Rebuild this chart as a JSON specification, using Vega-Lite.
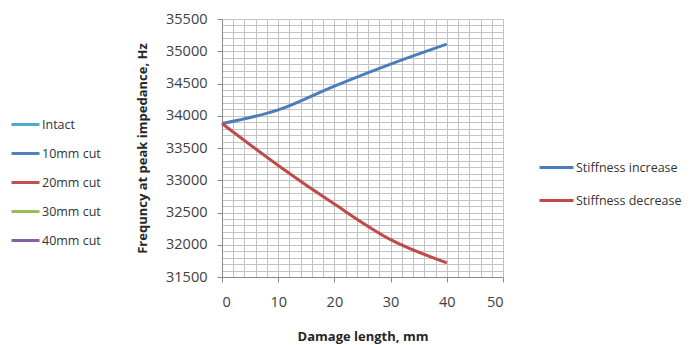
{
  "$schema": "https://vega.github.io/schema/vega-lite/v6.json",
  "width": 281,
  "height": 258,
  "autosize": {"type": "none"},
  "padding": {"left": 222, "top": 19, "right": 194, "bottom": 68},
  "background": "white",
  "config": {
    "font": "Open Sans",
    "view": {"stroke": null},
    "axis": {
      "grid": true,
      "gridColor": "#c3c3c3",
      "gridWidth": 1,
      "domainColor": "#8a8a8a",
      "domainWidth": 1,
      "tickColor": "#8a8a8a",
      "labelColor": "#404040",
      "labelFont": "Open Sans",
      "labelFontSize": 14.5,
      "labelOverlap": false,
      "tickCount": 200,
      "titleFont": "Open Sans",
      "titleFontSize": 13,
      "titleFontWeight": "bold",
      "titleColor": "#262626"
    },
    "legend": {
      "labelFont": "Open Sans",
      "labelColor": "#333333",
      "padding": 0
    }
  },
  "datasets": {
    "stiffness": [
      {"series": "Stiffness increase", "length": 0, "freq": 33880},
      {"series": "Stiffness increase", "length": 10, "freq": 34090},
      {"series": "Stiffness increase", "length": 20, "freq": 34460},
      {"series": "Stiffness increase", "length": 30, "freq": 34800},
      {"series": "Stiffness increase", "length": 40, "freq": 35110},
      {"series": "Stiffness decrease", "length": 0, "freq": 33880},
      {"series": "Stiffness decrease", "length": 10, "freq": 33230},
      {"series": "Stiffness decrease", "length": 20, "freq": 32630},
      {"series": "Stiffness decrease", "length": 30, "freq": 32080},
      {"series": "Stiffness decrease", "length": 40, "freq": 31720}
    ],
    "cuts": [
      {"cut": "Intact"},
      {"cut": "10mm cut"},
      {"cut": "20mm cut"},
      {"cut": "30mm cut"},
      {"cut": "40mm cut"}
    ]
  },
  "layer": [
    {
      "data": {"name": "cuts"},
      "mark": {"type": "line"},
      "encoding": {
        "x": {"field": "length", "type": "quantitative"},
        "y": {"field": "freq", "type": "quantitative"},
        "color": {
          "field": "cut", "type": "ordinal",
          "scale": {"domain": ["Intact", "10mm cut", "20mm cut", "30mm cut", "40mm cut"], "range": ["#4bacc6", "#4f81bd", "#c0504d", "#9bbb59", "#8064a2"]},
          "legend": {"orient": "none", "legendX": -212, "legendY": 90, "title": null, "symbolType": "stroke", "symbolSize": 784, "labelFontSize": 12.5, "labelOffset": 1, "rowPadding": 7}
        },
        "strokeWidth": {
          "field": "cut", "type": "ordinal",
          "scale": {"domain": ["Intact", "10mm cut", "20mm cut", "30mm cut", "40mm cut"], "range": [3, 3, 1, 3, 3]},
          "legend": {"orient": "none", "legendX": -212, "legendY": 90, "title": null, "symbolType": "stroke", "symbolSize": 784, "labelFontSize": 12.5, "labelOffset": 1, "rowPadding": 7}
        }
      }
    },
    {
      "data": {"name": "stiffness"},
      "mark": {"type": "line", "strokeWidth": 3, "interpolate": "monotone"},
      "encoding": {
        "x": {
          "field": "length", "type": "quantitative",
          "scale": {"domain": [0, 50], "nice": false},
          "axis": {
            "title": "Damage length, mm",
            "values": [0, 2, 4, 6, 8, 10, 12, 14, 16, 18, 20, 22, 24, 26, 28, 30, 32, 34, 36, 38, 40, 42, 44, 46, 48, 50],
            "format": "d",
            "labelExpr": "datum.value % 10 === 0 ? datum.label : ''",
            "tickSize": {"condition": {"test": "datum.value % 10 === 0", "value": 5}, "value": 0},
            "labelPadding": 13,
            "titlePadding": 22
          }
        },
        "y": {
          "field": "freq", "type": "quantitative",
          "scale": {"domain": [31500, 35500], "nice": false, "zero": false},
          "axis": {
            "title": "Frequncy at peak impedance, Hz",
            "values": [31500, 31600, 31700, 31800, 31900, 32000, 32100, 32200, 32300, 32400, 32500, 32600, 32700, 32800, 32900, 33000, 33100, 33200, 33300, 33400, 33500, 33600, 33700, 33800, 33900, 34000, 34100, 34200, 34300, 34400, 34500, 34600, 34700, 34800, 34900, 35000, 35100, 35200, 35300, 35400, 35500],
            "labelExpr": "datum.value % 500 === 0 ? datum.label : ''",
            "format": "d",
            "tickSize": {"condition": {"test": "datum.value % 500 === 0", "value": 5}, "value": 0},
            "labelPadding": 10,
            "titlePadding": 16
          }
        },
        "color": {
          "field": "series", "type": "nominal",
          "scale": {"domain": ["Stiffness increase", "Stiffness decrease"], "range": ["#4a7ebb", "#be4b48"]},
          "legend": {"orient": "none", "legendX": 316, "legendY": 130, "title": null, "symbolType": "stroke", "symbolSize": 1156, "symbolStrokeWidth": 3, "labelFontSize": 12.5, "labelOffset": 1, "rowPadding": 8}
        }
      }
    }
  ],
  "resolve": {"scale": {"color": "independent", "strokeWidth": "independent"}}
}
